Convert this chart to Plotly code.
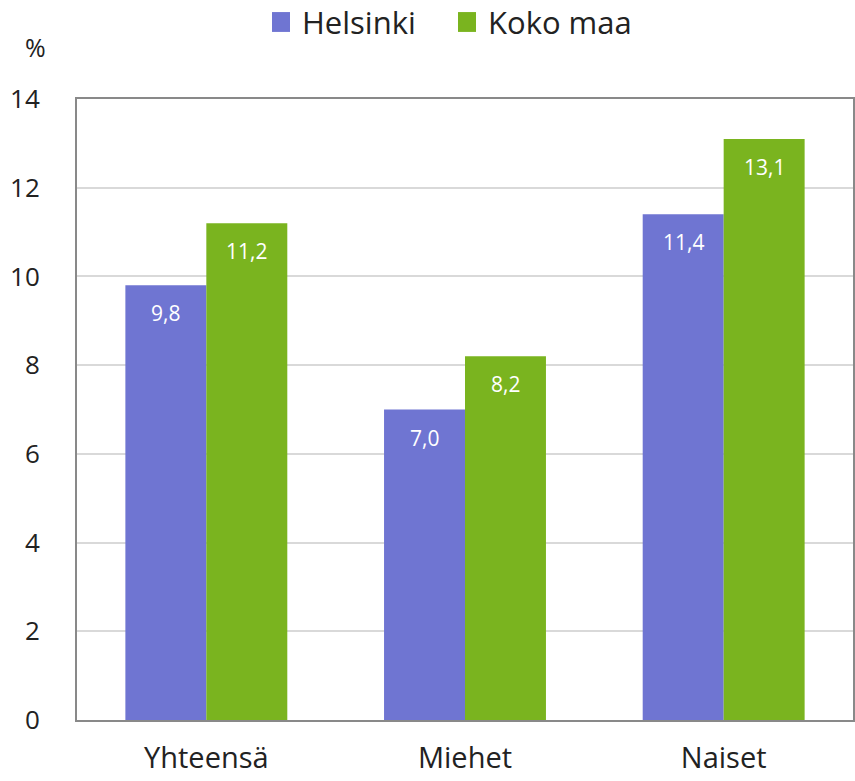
import plotly.graph_objects as go

categories = ["Yhteensä", "Miehet", "Naiset"]
helsinki = [9.8, 7.0, 11.4]
koko_maa = [11.2, 8.2, 13.1]
series_names = ["Helsinki", "Koko maa"]
y_ticks = [0, 2, 4, 6, 8, 10, 12, 14]

BLUE = "#6f75d2"
GREEN = "#7ab41f"
FONT = "Open Sans, Noto Sans, sans-serif"
TEXT = "#222222"

fig = go.Figure()
fig.add_trace(go.Bar(name=series_names[0], x=categories, y=helsinki,
                     marker=dict(color=BLUE, line=dict(width=0)), showlegend=False))
fig.add_trace(go.Bar(name=series_names[1], x=categories, y=koko_maa,
                     marker=dict(color=GREEN, line=dict(width=0)), showlegend=False))

def fmt(v):
    return f"{v:.1f}".replace(".", ",")

# value labels sitting just below the top of each bar
for vals, shift in ((helsinki, -40.5), (koko_maa, 40.5)):
    for c, v in zip(categories, vals):
        fig.add_annotation(x=c, y=v, xshift=shift, yshift=-28, text=fmt(v),
                           showarrow=False, yanchor="middle",
                           font=dict(color="white", size=21, family=FONT))

# legend drawn by hand: square swatch + label for each series
legend_items = [(series_names[0], BLUE, 0.2513), (series_names[1], GREEN, 0.491)]
for name, color, x0 in legend_items:
    fig.add_shape(type="rect", xref="paper", yref="paper",
                  x0=x0, x1=x0 + 0.0232, y0=1.108, y1=1.140,
                  fillcolor=color, line=dict(width=0))
    fig.add_annotation(text=name, xref="paper", yref="paper", x=x0 + 0.036, y=1.124,
                       xanchor="left", yanchor="middle", showarrow=False,
                       font=dict(size=31, color=TEXT, family=FONT))

fig.add_annotation(text="%", xref="paper", yref="paper", x=-0.054, y=1.084,
                   xanchor="center", yanchor="middle", showarrow=False,
                   font=dict(size=25, color=TEXT, family=FONT))

fig.update_layout(
    width=855, height=781,
    margin=dict(l=77, r=2, t=99, b=61, autoexpand=False),
    barmode="group", bargap=0.374, bargroupgap=0,
    plot_bgcolor="white", paper_bgcolor="white",
    font=dict(family=FONT, color=TEXT),
    showlegend=False,
    xaxis=dict(showline=True, linecolor="#898989", linewidth=2, mirror=True,
               tickfont=dict(size=29, color=TEXT), ticks="",
               ticklabelstandoff=11),
    yaxis=dict(range=[0, 14], tickvals=y_ticks, showgrid=True, gridcolor="#d9d9d9",
               gridwidth=2, showline=True, linecolor="#898989", linewidth=2, mirror=True,
               tickfont=dict(size=26, color=TEXT), ticks="",
               ticklabelstandoff=30, zeroline=False),
)

fig.write_html("out.html")
